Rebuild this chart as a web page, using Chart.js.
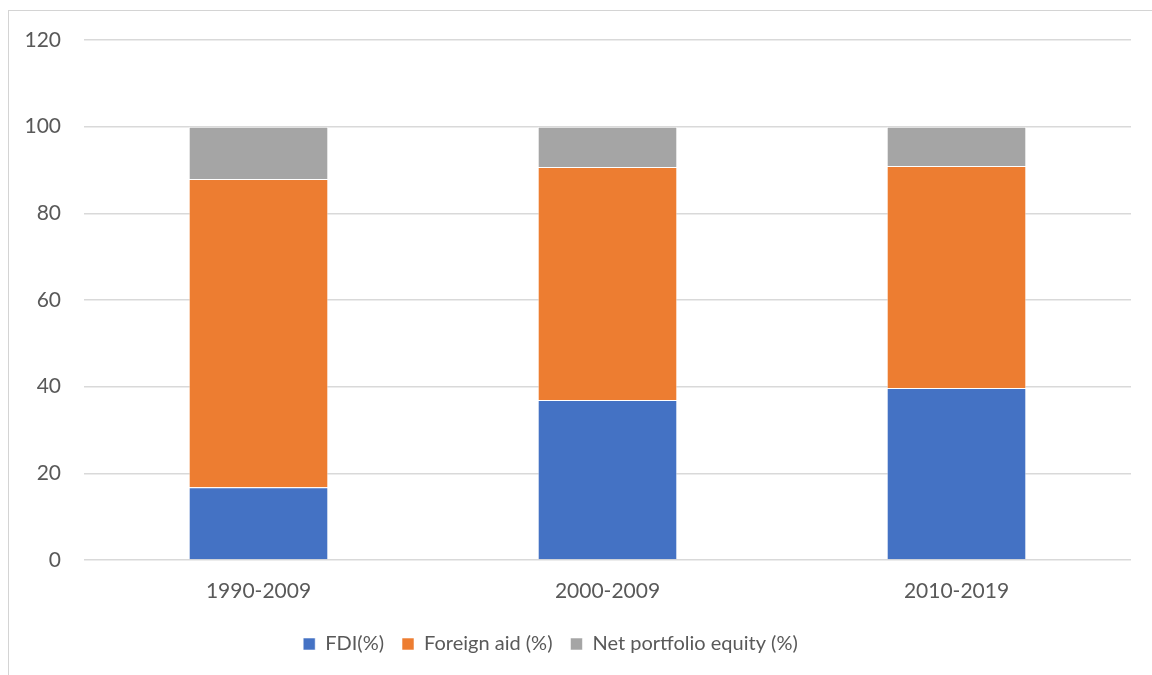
<!DOCTYPE html>
<html>
<head>
<meta charset="utf-8">
<script src="https://cdn.jsdelivr.net/npm/chart.js@4.4.1/dist/chart.umd.min.js"></script>
<style>
  html, body { margin: 0; padding: 0; background: #fff; }
  #wrap { position: relative; width: 1152px; height: 675px; overflow: hidden; }
  #frame { position: absolute; left: 8px; top: 10px; width: 1200px; height: 700px;
           border-left: 1px solid #d4d4d4; border-top: 1px solid #d4d4d4; pointer-events: none; }
  canvas { position: absolute; left: 0; top: 0; }
</style>
</head>
<body>
<div id="wrap">
  <canvas id="c" width="1152" height="675"></canvas>
  <div id="frame"></div>
</div>
<script>
// Periods and the share of each capital flow (%)
const periods = ['1990-2009', '2000-2009', '2010-2019'];
const fdi = [16.8, 36.9, 39.7];
const foreignAid = [71.1, 53.8, 51.2];
const netPortfolioEquity = [12.1, 9.3, 9.1];
const yTicks = [0, 20, 40, 60, 80, 100, 120];

const textColor = '#595959';
const fontFamily = 'Lato, "Open Sans", sans-serif';

// Nudge the bottom legend slightly left of the canvas centre
const legendShift = {
  id: 'legendShift',
  afterLayout(chart) {
    const lg = chart.legend;
    if (lg) { lg.left -= 15; lg.right -= 15; }
  }
};

new Chart(document.getElementById('c'), {
  type: 'bar',
  data: {
    labels: periods,
    datasets: [
      { label: 'FDI(%)', data: fdi, backgroundColor: '#4472C4',
        borderColor: 'rgba(255,255,255,0.55)', borderWidth: 1 },
      { label: 'Foreign aid (%)', data: foreignAid, backgroundColor: '#ED7D31',
        borderColor: 'rgba(255,255,255,0.55)', borderWidth: 1 },
      { label: 'Net portfolio equity (%)', data: netPortfolioEquity, backgroundColor: '#A5A5A5',
        borderColor: 'rgba(255,255,255,0.55)', borderWidth: 1 }
    ]
  },
  options: {
    responsive: false,
    animation: false,
    devicePixelRatio: 1,
    layout: { padding: { top: 40, right: 21, bottom: 11, left: 0 } },
    datasets: { bar: { categoryPercentage: 1, barPercentage: 0.4 } },
    scales: {
      x: {
        stacked: true,
        grid: { display: false, drawTicks: false },
        border: { display: false },
        ticks: { color: textColor, font: { family: fontFamily, size: 21 }, padding: 19 },
        afterFit(scale) { scale.height = 56; }
      },
      y: {
        stacked: true,
        min: 0, max: 120,
        afterBuildTicks(scale) { scale.ticks = yTicks.map(v => ({ value: v })); },
        grid: { color: '#d9d9d9', lineWidth: 1.5, drawTicks: false },
        border: { display: false },
        ticks: { color: textColor, font: { family: fontFamily, size: 21 }, padding: 23 },
        afterFit(scale) { scale.width = 84; }
      }
    },
    plugins: {
      legend: {
        position: 'bottom',
        labels: {
          color: textColor,
          font: { family: fontFamily, size: 20 },
          boxWidth: 12, boxHeight: 12,
          padding: 18
        }
      },
      tooltip: { enabled: false }
    }
  },
  plugins: [legendShift]
});
</script>
</body>
</html>
